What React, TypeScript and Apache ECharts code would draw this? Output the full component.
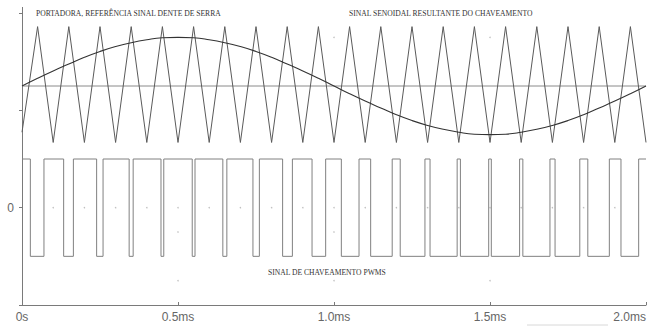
import React, { useEffect, useRef } from "react";
import * as echarts from "echarts";

// Carrier (triangle / sawtooth reference), time in ms
const triangleTimes = [
  0, 0.05, 0.1, 0.15, 0.2, 0.25, 0.3, 0.35, 0.4, 0.45, 0.5, 0.55, 0.6, 0.65, 0.7, 0.75, 0.8, 0.85, 0.9, 0.95,
  1.0, 1.05, 1.1, 1.15, 1.2, 1.25, 1.3, 1.35, 1.4, 1.45, 1.5, 1.55, 1.6, 1.65, 1.7, 1.75, 1.8, 1.85, 1.9, 1.95, 2.0,
];
const triangleValues = [
  1.55, 3.72, 1.34, 3.72, 1.34, 3.72, 1.34, 3.72, 1.34, 3.72, 1.34, 3.72, 1.34, 3.72, 1.34, 3.72, 1.34, 3.72, 1.34, 3.72,
  1.34, 3.72, 1.34, 3.72, 1.34, 3.72, 1.34, 3.72, 1.34, 3.72, 1.34, 3.72, 1.34, 3.72, 1.34, 3.72, 1.34, 3.72, 1.34, 3.72, 1.34,
];

// Sinusoidal reference signal
const sineTimes = triangleTimes;
const sineValues = [
  2.5, 2.66, 2.81, 2.95, 3.09, 3.21, 3.31, 3.39, 3.45, 3.49, 3.5, 3.49, 3.45, 3.39, 3.31, 3.21, 3.09, 2.95, 2.81, 2.66,
  2.5, 2.34, 2.19, 2.05, 1.91, 1.79, 1.69, 1.61, 1.55, 1.51, 1.5, 1.51, 1.55, 1.61, 1.69, 1.79, 1.91, 2.05, 2.19, 2.34, 2.5,
];

// Horizontal mid line of the carrier
const midLineTimes = [0, 2.0];
const midLineValues = [2.5, 2.5];

// PWM switching signal: starting level and switching instants (ms)
const pwmStartLevel = 1;
const pwmHigh = 1;
const pwmLow = -1;
const pwmEdges = [
  0.0267, 0.0704, 0.1335, 0.1647, 0.2392, 0.2598, 0.3434, 0.3563, 0.4455, 0.4544,
  0.5456, 0.5545, 0.6437, 0.6566, 0.7402, 0.7608, 0.8353, 0.8666, 0.9296, 0.9733,
  1.0235, 1.0802, 1.1175, 1.1865, 1.2122, 1.2915, 1.3078, 1.3947, 1.4051, 1.4958,
  1.5042, 1.5949, 1.6053, 1.6922, 1.7085, 1.7878, 1.8135, 1.8825, 1.9198, 1.9765,
];
const pwmEndTime = 2.0;

// Faint plot grid dots
const dotTimes = [
  0.1, 0.2, 0.3, 0.4, 0.5, 0.6, 0.7, 0.8, 0.9, 1.0, 1.1, 1.2, 1.3, 1.4, 1.5, 1.6, 1.7, 1.8, 1.9,
  1.0, 1.5, 0.5, 1.0, 0.5, 1.0, 1.5,
];
const dotValues = [
  0, 0, 0, 0, 0, 0, 0, 0, 0, 0, 0, 0, 0, 0, 0, 0, 0, 0, 0,
  3.5, 3.5, -0.5, -0.5, -1.5, -1.5, -1.5,
];

const xTicks = [0, 0.5, 1.0, 1.5, 2.0];
const xTickLabels = ["0s", "0.5ms", "1.0ms", "1.5ms", "2.0ms"];

const textCarrier = "PORTADORA, REFERÊNCIA SINAL DENTE DE SERRA";
const textSine = "SINAL SENOIDAL RESULTANTE DO CHAVEAMENTO";
const textPwm = "SINAL DE CHAVEAMENTO PWMS";

function zip(a: number[], b: number[]) {
  return a.map((v, i) => [v, b[i]]);
}

function buildPwm() {
  const pts: number[][] = [];
  let level = pwmStartLevel;
  pts.push([0, level]);
  for (const e of pwmEdges) {
    pts.push([e, level]);
    level = level === pwmHigh ? pwmLow : pwmHigh;
    pts.push([e, level]);
  }
  pts.push([pwmEndTime, level]);
  return pts;
}

export default function App() {
  const ref = useRef<HTMLDivElement>(null);
  useEffect(() => {
    if (!ref.current) return;
    const chart = echarts.init(ref.current, undefined, { renderer: "svg" });
    const axisColor = "#7a7a7a";
    const serif = "'Liberation Serif', 'Times New Roman', serif";
    const option: any = {
      animation: false,
      backgroundColor: "#ffffff",
      grid: { left: 22, right: 7, top: 13, bottom: 21, containLabel: false },
      xAxis: {
        type: "value",
        min: 0,
        max: 2,
        interval: 0.5,
        axisLine: { show: true, onZero: false, lineStyle: { color: axisColor, width: 1 } },
        axisTick: { show: true, inside: true, length: 3, lineStyle: { color: axisColor } },
        axisLabel: {
          color: "#666",
          fontSize: 12,
          fontFamily: "'Liberation Sans', Arial, sans-serif",
          margin: 6,
          alignMinLabel: "center",
          alignMaxLabel: "right",
          formatter: (v: number) => {
            const i = xTicks.findIndex((t) => Math.abs(t - v) < 1e-6);
            return i >= 0 ? xTickLabels[i] : "";
          },
        },
        splitLine: { show: false },
      },
      yAxis: {
        type: "value",
        min: -2,
        max: 4,
        interval: 2,
        axisLine: { show: true, onZero: false, lineStyle: { color: axisColor, width: 1 } },
        axisTick: { show: true, inside: false, length: 3, lineStyle: { color: axisColor } },
        axisLabel: {
          color: "#666",
          fontSize: 12,
          fontFamily: "'Liberation Sans', Arial, sans-serif",
          margin: 8,
          formatter: (v: number) => (Math.abs(v) < 1e-9 ? "0" : ""),
        },
        splitLine: { show: false },
      },
      series: [
        {
          type: "scatter",
          data: zip(dotTimes, dotValues),
          symbolSize: 1.5,
          itemStyle: { color: "#b0b0b0" },
          silent: true,
          z: 1,
        },
        {
          type: "line",
          data: zip(midLineTimes, midLineValues),
          showSymbol: false,
          lineStyle: { color: "#8a8a8a", width: 1 },
          z: 2,
        },
        {
          type: "line",
          data: zip(triangleTimes, triangleValues),
          showSymbol: false,
          lineStyle: { color: "#5a5a5a", width: 1 },
          z: 3,
        },
        {
          type: "line",
          data: zip(sineTimes, sineValues),
          smooth: true,
          showSymbol: false,
          lineStyle: { color: "#333333", width: 1.1 },
          z: 4,
        },
        {
          type: "line",
          data: buildPwm(),
          showSymbol: false,
          lineStyle: { color: "#808080", width: 1 },
          z: 3,
        },
      ],
      graphic: [
        {
          type: "line",
          shape: { x1: 22.5, y1: 7, x2: 22.5, y2: 13 },
          style: { stroke: axisColor, lineWidth: 1 },
        },
        {
          type: "text",
          x: 36,
          y: 13,
          style: { text: textCarrier, fontSize: 7.6, fontFamily: serif, fill: "#333", verticalAlign: "middle" },
        },
        {
          type: "text",
          x: 349,
          y: 13,
          style: { text: textSine, fontSize: 7.6, fontFamily: serif, fill: "#333", verticalAlign: "middle" },
        },
        {
          type: "text",
          x: 268,
          y: 272,
          style: { text: textPwm, fontSize: 7.6, fontFamily: serif, fill: "#333", verticalAlign: "middle" },
        },
        {
          type: "line",
          shape: { x1: 527, y1: 325, x2: 608, y2: 325 },
          style: { stroke: "#d8d8d8", lineWidth: 1 },
        },
      ],
    };
    chart.setOption(option);
    return () => chart.dispose();
  }, []);
  return (
    <div
      ref={ref}
      style={{ position: "fixed", left: 0, top: 0, width: 653, height: 326, background: "#fff" }}
    />
  );
}
